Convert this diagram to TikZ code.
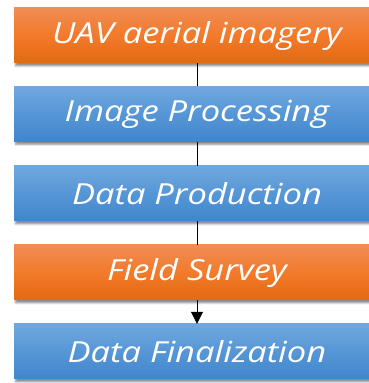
\documentclass[tikz,border=0pt]{standalone}
\usepackage{fontspec}
\newfontfamily\stagefont{Open Sans}[FakeStretch=1.19]
\usetikzlibrary{shadows.blur,arrows.meta}
\definecolor{orgtop}{RGB}{240,140,84}
\definecolor{orgmid}{RGB}{242,122,42}
\definecolor{orgbot}{RGB}{226,106,18}
\definecolor{blutop}{RGB}{112,168,222}
\definecolor{blumid}{RGB}{86,150,214}
\definecolor{blubot}{RGB}{64,134,204}
\tikzset{
  stagebox/.style={minimum width=366pt, minimum height=55pt, inner sep=0pt,
    text=white, font=\stagefont\itshape\fontsize{29}{32}\selectfont,
    blur shadow={shadow xshift=1.5pt, shadow yshift=-3pt, shadow blur steps=6, shadow opacity=45}},
  orangebox/.style={stagebox, top color=orgtop, bottom color=orgbot, middle color=orgmid},
  bluebox/.style={stagebox, top color=blutop, bottom color=blubot, middle color=blumid},
  link/.style={draw=black, line width=0.6pt},
}
\begin{document}
\begin{tikzpicture}[x=1pt,y=1pt]
  \useasboundingbox (0,0) rectangle (369,383);
  % stages
  \node[orangebox] (s1) at (197,347.5) {UAV aerial imagery};
  \node[bluebox]   (s2) at (197,269)   {Image Processing};
  \node[bluebox]   (s3) at (197,189.5) {Data Production};
  \node[orangebox] (s4) at (197,110.5) {Field Survey};
  \node[bluebox]   (s5) at (197,31.5)  {Data Finalization};
  % flow connectors
  \draw[link] (s1) -- (s2);
  \draw[link] (s2) -- (s3);
  \draw[link] (s3) -- (s4);
  \draw[link, -{Triangle[length=12pt,width=12pt]}] (s4) -- (s5);
\end{tikzpicture}
\end{document}
